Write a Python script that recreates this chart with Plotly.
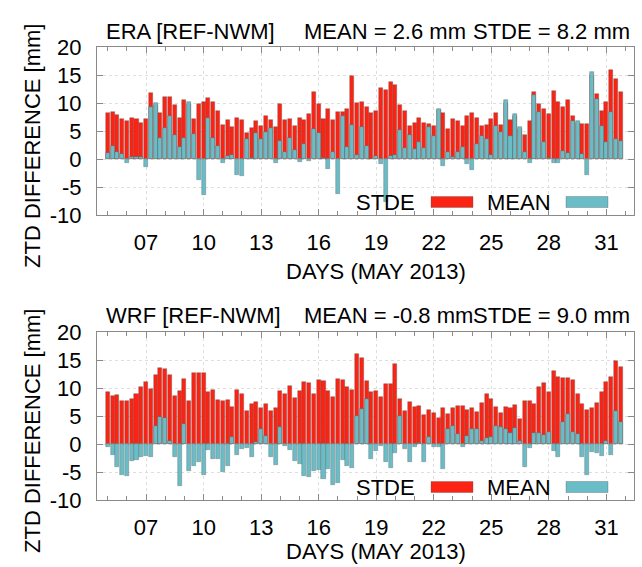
import plotly.graph_objects as go

# ---------------- data ----------------
DAY_START = 5.0      # first epoch (day of May 2013)
STEP = 0.25          # 6-hourly epochs

era_stde = [8.3, 8.4, 7.8, 7.2, 6.85, 7.4, 7.1, 6.5, 7.1, 11.7,
            9.6, 8.2, 11.0, 11.0, 9.6, 7.3, 10.6, 9.9, 7.1, 9.8,
            10.2, 10.9, 10.1, 8.6, 6.0, 7.0, 5.7, 7.4, 7.0, 4.7,
            5.5, 6.8, 5.9, 7.6, 6.9, 5.65, 9.9, 6.9, 7.2, 5.9,
            7.4, 7.0, 8.0, 11.9, 9.9, 7.1, 9.0, 7.0, 8.45, 8.45,
            9.0, 14.8, 10.0, 10.2, 9.2, 8.3, 8.6, 12.7, 12.3, 13.75,
            13.3, 9.6, 8.6, 5.95, 6.4, 7.4, 6.4, 6.3, 5.9, 8.7,
            8.3, 5.4, 7.2, 6.8, 5.9, 7.7, 8.2, 7.3, 5.9, 6.1,
            7.1, 8.15, 6.1, 10.0, 7.0, 7.6, 5.4, 4.3, 6.7, 11.9,
            9.8, 9.0, 8.0, 12.2, 10.2, 9.2, 10.6, 7.6, 6.5, 6.25,
            6.2, 15.0, 11.6, 8.6, 10.2, 15.9, 14.3, 12.0]
era_mean = [1.1, 2.3, 1.25, 0.9, -0.65, 0.4, 0.4, 0.3, -1.5, 9.2,
            10.0, 3.8, 5.6, 7.6, 4.2, 2.2, 3.8, 10.2, 4.5, -3.8,
            -6.4, 7.4, 3.75, 2.4, -0.65, 0.5, 0.65, -2.9, -3.0, 3.6,
            0.1, 4.6, 3.6, 4.8, 5.5, -0.8, 3.2, 1.2, 3.8, 1.6,
            -0.6, 2.7, -0.4, 5.4, 4.7, 0.1, -1.8, 1.25, -6.25, 7.7,
            2.1, 6.0, 0.7, 5.8, 2.3, 0.05, 0.6, -0.9, -7.6, 0.6,
            0.7, 5.1, 1.9, 4.2, 1.7, 3.0, 2.0, 5.8, 4.05, 9.0,
            -1.3, 1.2, 0.3, 1.3, 2.1, -0.95, -2.0, 2.7, 4.1, 3.6,
            0.8, 5.9, 4.9, 10.5, 4.1, 8.0, 5.65, 1.3, -0.65, 11.4,
            8.45, 3.0, 0.1, -0.65, -0.65, 1.4, 1.0, 6.7, 6.8, 0.95,
            -2.8, 15.5, 10.65, 5.9, 3.1, 8.45, 3.6, 3.3]

wrf_stde = [9.3, 8.55, 8.8, 7.65, 7.65, 8.0, 9.0, 10.2, 11.1, 9.8,
            12.3, 13.6, 13.4, 12.4, 8.6, 9.5, 11.6, 7.65, 12.6, 12.6,
            12.75, 9.25, 9.7, 7.8, 7.65, 7.8, 6.65, 9.7, 8.9, 5.9,
            7.2, 7.5, 6.5, 7.1, 5.9, 6.5, 9.4, 8.9, 10.4, 8.25,
            9.5, 11.0, 10.9, 8.9, 11.45, 11.3, 9.55, 8.4, 11.6, 11.5,
            10.15, 9.7, 16.1, 15.3, 11.2, 9.3, 9.4, 8.4, 10.8, 10.8,
            14.35, 7.95, 5.9, 7.5, 6.6, 6.8, 5.15, 6.15, 5.6, 4.7,
            6.5, 5.3, 6.5, 6.7, 6.8, 6.05, 6.35, 5.75, 7.3, 9.0,
            8.1, 6.65, 5.45, 6.6, 6.35, 7.05, 4.45, 7.7, 7.7, 7.1,
            10.15, 10.9, 9.3, 13.0, 12.0, 11.75, 11.8, 11.4, 8.95, 7.1,
            6.1, 6.5, 7.3, 9.3, 11.0, 11.9, 14.85, 13.8]
wrf_mean = [-0.5, -2.0, -4.1, -5.5, -5.75, -3.1, -2.85, -2.4, -2.1, -2.4,
            3.2, 4.9, 4.7, 0.5, -2.3, -7.5, 3.6, -4.75, -3.85, -3.25,
            -5.5, -1.0, -2.7, -2.7, -5.0, -3.85, 1.3, -1.9, -0.95, -0.8,
            -2.25, 0.4, 2.7, 1.5, -2.25, -3.7, 3.0, -0.35, -1.05, -3.1,
            -3.55, -5.65, -5.9, -4.9, -4.6, -6.2, -4.45, -7.25, -7.0, -2.85,
            -3.85, -4.2, 5.0, 6.2, 8.1, -2.7, -1.2, -0.35, -3.15, -4.3,
            -1.55, 5.0, -0.9, -3.15, -0.5, 0.1, -3.15, 1.3, -0.5, -0.5,
            -4.45, 2.6, 3.25, 1.7, -0.5, 1.35, 2.6, 2.65, 0.45, 1.0,
            1.3, 3.3, 3.1, 2.65, 1.9, 2.85, 0.6, -4.1, -0.7, 2.0,
            1.9, 1.55, 2.2, -1.25, -2.25, 3.9, 5.4, 2.2, 1.85, -2.25,
            -5.5, -1.4, -1.65, -2.1, 0.45, -1.95, 5.95, 3.85]

days = [DAY_START + STEP * i for i in range(len(era_stde))]

x_tick_vals = [7, 10, 13, 16, 19, 22, 25, 28, 31]
x_tick_text = ["07", "10", "13", "16", "19", "22", "25", "28", "31"]
y_tick_vals = [-10, -5, 0, 5, 10, 15, 20]
y_tick_text = ["-10", "-5", "0", "5", "10", "15", "20"]

panels = [
    ("ERA [REF-NWM]", "MEAN = 2.6 mm", "STDE = 8.2 mm", era_stde, era_mean),
    ("WRF [REF-NWM]", "MEAN = -0.8 mm", "STDE = 9.0 mm", wrf_stde, wrf_mean),
]

# ---------------- style ----------------
W, H = 642, 567
ML, MR, MT, MB = 97, 8, 47, 67
PW, PH = W - ML - MR, H - MT - MB
RED = "#fb2414"
CYAN = "#6abdc7"
FONT = "Liberation Sans, Arial, sans-serif"
FS = 22
PANEL_TOP = [47, 332]
PANEL_BOT = [215, 500]
XTITLE_Y = [271, 551]


def px(xp):
    return (xp - ML) / PW


def py(yp):
    return (H - MB - yp) / PH


fig = go.Figure()
annotations = []
shapes = []

for k, (name, mtxt, stxt, stde, mean) in enumerate(panels):
    xa = "x" if k == 0 else "x2"
    ya = "y" if k == 0 else "y2"
    bar_line = dict(color="rgba(80,80,80,0.55)", width=0.6)
    fig.add_trace(go.Bar(x=days, y=stde, marker=dict(color=RED, line=bar_line),
                         width=0.21, xaxis=xa, yaxis=ya, showlegend=False))
    fig.add_trace(go.Bar(x=days, y=mean, marker=dict(color=CYAN, line=bar_line),
                         width=0.21, xaxis=xa, yaxis=ya, showlegend=False))

    top, bot = PANEL_TOP[k], PANEL_BOT[k]
    # panel title texts
    ty = top - 16
    for txt, x0, anc in ((name, 104, "left"), (mtxt, 302, "left"), (stxt, 632, "right")):
        annotations.append(dict(text=txt, x=px(x0), y=py(ty), xref="paper", yref="paper",
                                xanchor=anc, yanchor="middle", showarrow=False,
                                font=dict(size=FS, color="black", family=FONT)))
    # x title
    annotations.append(dict(text="DAYS (MAY 2013)", x=px(376), y=py(XTITLE_Y[k]), xref="paper",
                            yref="paper", xanchor="center", yanchor="middle", showarrow=False,
                            font=dict(size=FS, color="black", family=FONT)))
    # y title
    annotations.append(dict(text="ZTD DIFFERENCE [mm]", x=px(32), y=py(top + 99), xref="paper",
                            yref="paper", xanchor="center", yanchor="middle", showarrow=False,
                            textangle=-90, font=dict(size=FS, color="black", family=FONT)))
    # manual legend
    ly = bot - 13
    for lab, tx_right, rx0, rx1, col in (("STDE", 417, 431, 473, RED), ("MEAN", 553, 566, 608, CYAN)):
        annotations.append(dict(text=lab, x=px(tx_right), y=py(ly), xref="paper", yref="paper",
                                xanchor="right", yanchor="middle", showarrow=False,
                                font=dict(size=FS, color="black", family=FONT)))
        shapes.append(dict(type="rect", xref="paper", yref="paper",
                           x0=px(rx0), x1=px(rx1), y0=py(ly + 5.5), y1=py(ly - 5.5),
                           fillcolor=col, line=dict(color="rgba(80,80,80,0.55)", width=0.6)))

axis_common = dict(showline=True, linecolor="#8a8a8a", linewidth=1, mirror="ticks",
                   ticks="inside", tickcolor="#8a8a8a", showgrid=True, gridcolor="#dedede",
                   griddash="dot", zeroline=False,
                   tickfont=dict(size=FS, color="black", family=FONT))

xcfg = dict(axis_common, range=[4.44, 32.44], tickmode="array", tickvals=x_tick_vals,
            ticktext=x_tick_text, ticklen=6, ticklabelstandoff=8,
            minor=dict(tickmode="linear", tick0=0, dtick=1, ticks="inside", ticklen=4,
                       tickcolor="#8a8a8a", showgrid=False))
ycfg = dict(axis_common, range=[-10, 20], tickmode="array", tickvals=y_tick_vals,
            ticktext=y_tick_text, ticklen=6, ticklabelstandoff=10)

fig.update_layout(
    width=W, height=H,
    margin=dict(l=ML, r=MR, t=MT, b=MB),
    paper_bgcolor="white", plot_bgcolor="white",
    barmode="overlay", bargap=0,
    showlegend=False,
    xaxis=dict(xcfg, anchor="y", domain=[0, 1]),
    yaxis=dict(ycfg, anchor="x", domain=[py(215), 1]),
    xaxis2=dict(xcfg, anchor="y2", domain=[0, 1]),
    yaxis2=dict(ycfg, anchor="x2", domain=[0, py(332)]),
    annotations=annotations,
    shapes=shapes,
    font=dict(family=FONT, size=FS, color="black"),
)

fig.write_html("out.html")
